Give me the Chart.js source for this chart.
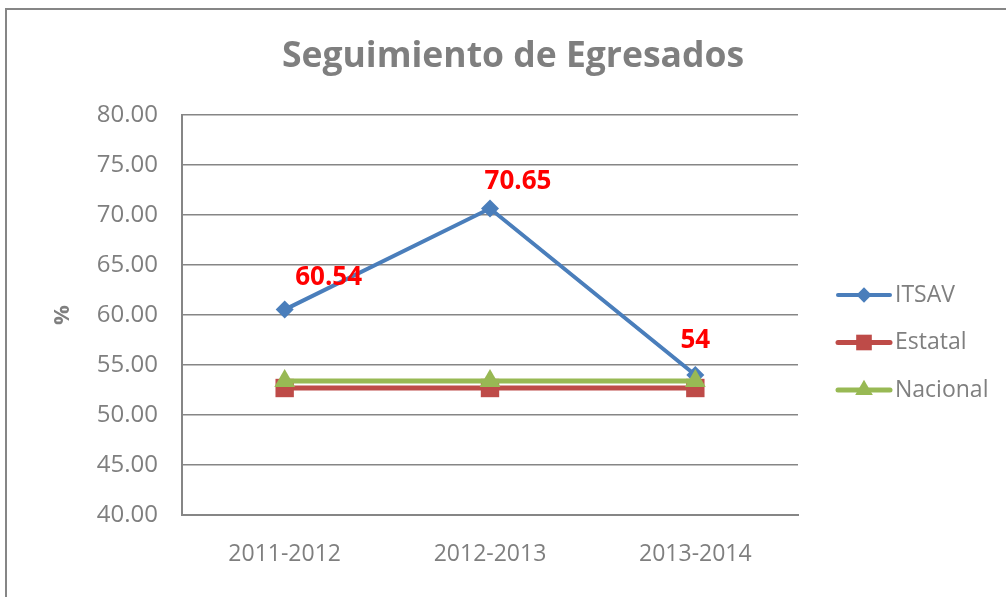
<!DOCTYPE html>
<html lang="es">
<head>
  <meta charset="UTF-8">
  <title>Seguimiento de Egresados</title>
  <script src="https://cdn.jsdelivr.net/npm/chart.js"></script>
  <style>
    body {
      margin: 0;
      background: white;
      overflow: hidden;
    }
    #wrap {
      width: 1006px;
      height: 597px;
      position: relative;
    }
  </style>
</head>
<body>
  <div id="wrap"><canvas id="grafica" width="1006" height="597"></canvas></div>

  <script>
    const periodos = ['2011-2012', '2012-2013', '2013-2014'];
    const itsav = [60.54, 70.65, 54];
    const estatal = [52.7, 52.7, 52.7];
    const nacional = [53.4, 53.4, 53.4];
    const etiquetasItsav = ['60.54', '70.65', '54'];

    const gris = '#7f7f7f';
    const fuente = "'Open Sans', 'Noto Sans', sans-serif";

    // marco del grafico (se sale por la derecha y por abajo) + titulo
    const marco = {
      id: 'marco',
      beforeDraw(chart) {
        const ctx = chart.ctx;
        ctx.save();
        ctx.strokeStyle = '#868686';
        ctx.lineWidth = 2;
        ctx.strokeRect(6, 9, 1100, 700);
        ctx.fillStyle = gris;
        ctx.font = "bold 35.5px " + fuente;
        ctx.textAlign = 'center';
        ctx.textBaseline = 'middle';
        ctx.fillText('Seguimiento de Egresados', 513, 57);
        ctx.restore();
      }
    };

    // etiquetas rojas de ITSAV, colocadas a mano como en Excel
    const desplaz = [[44, -32], [28, -27], [0, -34]];
    const etiquetas = {
      id: 'etiquetas',
      afterDatasetsDraw(chart) {
        const ctx = chart.ctx;
        const meta = chart.getDatasetMeta(0);
        ctx.save();
        ctx.fillStyle = '#ff0000';
        ctx.font = "bold 26px " + fuente;
        ctx.textAlign = 'center';
        ctx.textBaseline = 'middle';
        meta.data.forEach((p, i) => {
          ctx.fillText(etiquetasItsav[i], p.x + desplaz[i][0], p.y + desplaz[i][1]);
        });
        ctx.restore();
      }
    };

    // leyenda a la derecha con linea + marcador
    const leyenda = {
      id: 'leyenda',
      afterDraw(chart) {
        const ctx = chart.ctx;
        ctx.save();
        chart.data.datasets.forEach((ds, i) => {
          const y = 295 + i * 47.5;
          ctx.strokeStyle = ds.borderColor;
          ctx.lineWidth = ds.borderWidth;
          ctx.lineCap = 'round';
          ctx.beginPath();
          ctx.moveTo(838, y);
          ctx.lineTo(890, y);
          ctx.stroke();
          ctx.fillStyle = ds.pointBackgroundColor;
          Chart.helpers.drawPoint(ctx, {
            pointStyle: ds.pointStyle,
            radius: ds.pointRadius * 0.85,
            rotation: 0,
            borderWidth: 0
          }, 864, y);
          ctx.fillStyle = gris;
          ctx.font = "23px " + fuente;
          ctx.textAlign = 'left';
          ctx.textBaseline = 'middle';
          ctx.fillText(ds.label, 895, y);
        });
        ctx.restore();
      }
    };

    new Chart(document.getElementById('grafica'), {
      type: 'line',
      data: {
        labels: periodos,
        datasets: [
          {
            label: 'ITSAV',
            data: itsav,
            order: 3,
            borderColor: '#4a7ebb',
            backgroundColor: '#4a7ebb',
            pointBackgroundColor: '#4a7ebb',
            pointBorderColor: '#4a7ebb',
            borderWidth: 4,
            pointStyle: 'rectRot',
            pointRadius: 9,
            pointBorderWidth: 0
          },
          {
            label: 'Estatal',
            data: estatal,
            order: 2,
            borderColor: '#be4b48',
            backgroundColor: '#be4b48',
            pointBackgroundColor: '#be4b48',
            pointBorderColor: '#be4b48',
            borderWidth: 5,
            pointStyle: 'rect',
            pointRadius: 13,
            pointBorderWidth: 0
          },
          {
            label: 'Nacional',
            data: nacional,
            order: 1,
            borderColor: '#98b954',
            backgroundColor: '#98b954',
            pointBackgroundColor: '#98b954',
            pointBorderColor: '#98b954',
            borderWidth: 5,
            pointStyle: 'triangle',
            pointRadius: 12,
            pointBorderWidth: 0
          }
        ]
      },
      options: {
        responsive: false,
        animation: false,
        layout: { padding: { top: 115, left: 50, right: 208, bottom: 0 } },
        plugins: {
          legend: { display: false },
          tooltip: { enabled: false },
          title: { display: false }
        },
        scales: {
          x: {
            offset: true,
            grid: { display: false, drawTicks: false },
            border: { display: true, color: '#868686', width: 2 },
            ticks: { color: gris, font: { family: fuente, size: 23 }, padding: 26 },
            afterFit(s) { s.height = 82; }
          },
          y: {
            min: 40,
            max: 80,
            ticks: {
              stepSize: 5,
              color: gris,
              font: { family: fuente, size: 24 },
              padding: 24,
              callback: v => v.toFixed(2)
            },
            grid: { color: '#868686', lineWidth: 1.5, drawTicks: false },
            border: { display: true, color: '#868686', width: 2 },
            title: {
              display: true,
              text: '%',
              color: gris,
              font: { family: fuente, size: 22, weight: 'bold' },
              padding: { top: 0, bottom: 0 }
            },
            afterFit(s) { s.width = 132; }
          }
        }
      },
      plugins: [marco, etiquetas, leyenda]
    });
  </script>
</body>
</html>
